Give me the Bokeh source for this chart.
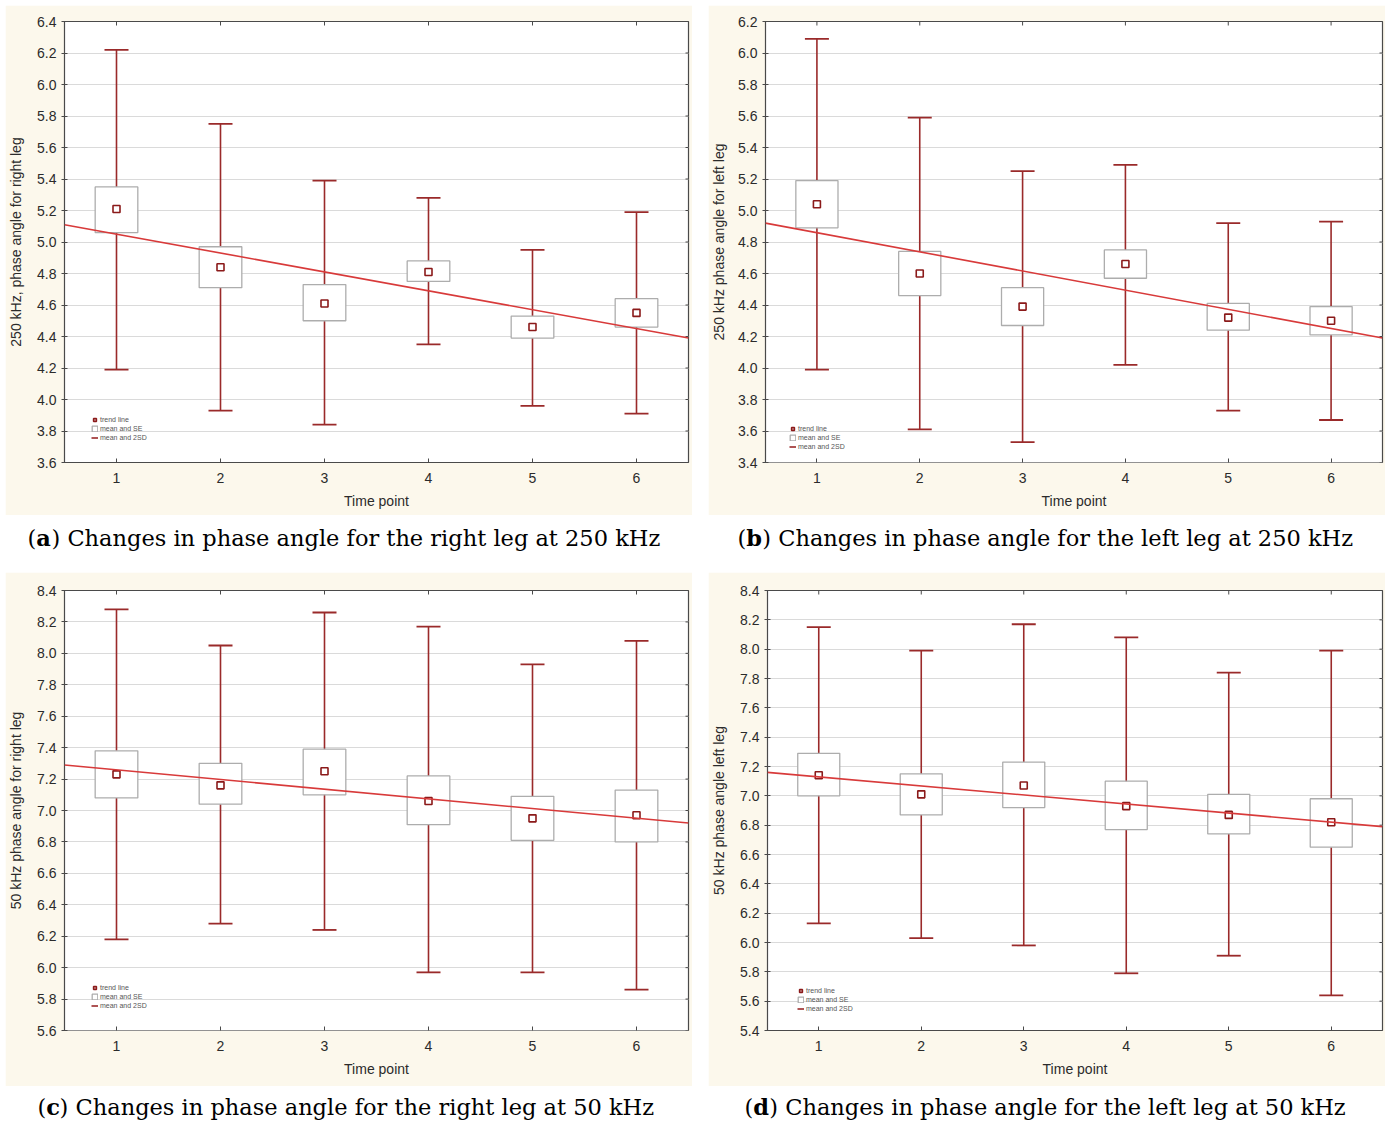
import numpy as np
from bokeh.plotting import figure
from bokeh.models import (ColumnDataSource, Range1d, FixedTicker, SingleIntervalTicker,
                          NumeralTickFormatter, Legend, LegendItem, Label, Spacer)
from bokeh.layouts import column, row
from bokeh.embed import file_html
from bokeh.resources import INLINE

# ---------------- data ----------------
time_points = [1, 2, 3, 4, 5, 6]
trend_x = [0.5, 6.5]

# (a) 250 kHz, right leg
a_mean = [5.21, 4.84, 4.61, 4.81, 4.46, 4.55]
a_se_lo = [5.06, 4.71, 4.50, 4.75, 4.39, 4.46]
a_se_hi = [5.35, 4.97, 4.73, 4.88, 4.53, 4.64]
a_sd_lo = [4.19, 3.93, 3.84, 4.35, 3.96, 3.91]
a_sd_hi = [6.22, 5.75, 5.39, 5.28, 4.95, 5.19]
a_trend = [5.11, 4.39]

# (b) 250 kHz, left leg
b_mean = [5.04, 4.60, 4.39, 4.66, 4.32, 4.30]
b_se_lo = [4.89, 4.46, 4.27, 4.57, 4.24, 4.21]
b_se_hi = [5.19, 4.74, 4.51, 4.75, 4.41, 4.39]
b_sd_lo = [3.99, 3.61, 3.53, 4.02, 3.73, 3.67]
b_sd_hi = [6.09, 5.59, 5.25, 5.29, 4.92, 4.93]
b_trend = [4.92, 4.19]

# (c) 50 kHz, right leg
c_mean = [7.23, 7.16, 7.25, 7.06, 6.95, 6.97]
c_se_lo = [7.08, 7.04, 7.10, 6.91, 6.81, 6.80]
c_se_hi = [7.38, 7.30, 7.39, 7.22, 7.09, 7.13]
c_sd_lo = [6.18, 6.28, 6.24, 5.97, 5.97, 5.86]
c_sd_hi = [8.28, 8.05, 8.26, 8.17, 7.93, 8.08]
c_trend = [7.29, 6.92]

# (d) 50 kHz, left leg
d_mean = [7.14, 7.01, 7.07, 6.93, 6.87, 6.82]
d_se_lo = [7.00, 6.87, 6.92, 6.77, 6.74, 6.65]
d_se_hi = [7.29, 7.15, 7.23, 7.10, 7.01, 6.98]
d_sd_lo = [6.13, 6.03, 5.98, 5.79, 5.91, 5.64]
d_sd_hi = [8.15, 7.99, 8.17, 8.08, 7.84, 7.99]
d_trend = [7.16, 6.79]

y_label_a = "250 kHz, phase angle for right leg"
y_label_b = "250 kHz phase angle for left leg"
y_label_c = "50 kHz phase angle for right leg"
y_label_d = "50 kHz phase angle left leg"
x_label = "Time point"
legend_labels = ["trend line", "mean and SE", "mean and 2SD"]

cap_a = ("a", ") Changes in phase angle for the right leg at 250 kHz")
cap_b = ("b", ") Changes in phase angle for the left leg at 250 kHz")
cap_c = ("c", ") Changes in phase angle for the right leg at 50 kHz")
cap_d = ("d", ") Changes in phase angle for the left leg at 50 kHz")

# ---------------- styles ----------------
CREAM = "#fcf8ec"
FRAME = "#4a4a4a"
WHISK = "#9a2a2a"
BOXC = "#adadad"
MEANC = "#8b1a1a"
TREND = "#d83a3a"
SANS = "Liberation Sans"
SERIF = "DejaVu Serif"
TXT = "#2b2b2b"


def panel(mean, se_lo, se_hi, sd_lo, sd_hi, trend_y, y_lo, y_hi, ylabel,
          w, h, bl, br, bt, bb, leg_loc, lab_standoff):
    src = ColumnDataSource(dict(x=time_points, mean=mean, se_lo=se_lo, se_hi=se_hi,
                                sd_lo=sd_lo, sd_hi=sd_hi))
    p = figure(width=w, height=h, output_backend="svg", toolbar_location=None,
               x_range=Range1d(0.5, 6.5), y_range=Range1d(y_lo, y_hi),
               min_border_left=bl, min_border_right=br, min_border_top=bt,
               min_border_bottom=bb, background_fill_color="white",
               border_fill_color=CREAM, outline_line_color=FRAME,
               outline_line_width=1.2)
    p.xgrid.visible = False
    p.ygrid.grid_line_color = "#dadada"
    p.ygrid.grid_line_width = 1.2

    y_ticks = [round(v, 1) for v in np.arange(y_lo, y_hi + 0.001, 0.2)]
    p.xaxis.ticker = FixedTicker(ticks=time_points)
    p.yaxis.ticker = SingleIntervalTicker(interval=0.2, num_minor_ticks=0)
    p.yaxis.formatter = NumeralTickFormatter(format="0.0")
    for ax in (p.xaxis[0], p.yaxis[0]):
        ax.axis_line_color = None
        ax.major_tick_line_color = FRAME
        ax.minor_tick_line_color = None
        ax.major_label_text_font = SANS
        ax.major_label_text_font_size = "14px"
        ax.major_label_text_color = TXT
        ax.axis_label_text_font = SANS
        ax.axis_label_text_font_size = "14px"
        ax.axis_label_text_font_style = "normal"
        ax.axis_label_text_color = TXT
    p.yaxis.major_tick_in = 3
    p.yaxis.major_tick_out = 3
    p.yaxis.major_label_standoff = 5
    p.yaxis.axis_label_standoff = lab_standoff
    p.yaxis.axis_label = ylabel
    p.xaxis.major_tick_in = 4
    p.xaxis.major_tick_out = 0
    p.xaxis.major_label_standoff = 10
    p.xaxis.axis_label_standoff = 7
    p.xaxis.axis_label = x_label

    # small inward tick marks on the right and top edges of the frame
    p.ray(x=[6.5] * len(y_ticks), y=y_ticks, length=3, angle=np.pi,
          length_units="screen", line_color=FRAME, line_width=1)
    p.ray(x=time_points, y=[y_hi] * len(time_points), length=4, angle=-np.pi / 2,
          length_units="screen", line_color=FRAME, line_width=1)

    wr = p.segment(x0="x", y0="sd_lo", x1="x", y1="sd_hi", source=src,
                   line_color=WHISK, line_width=1.6)
    p.scatter(x="x", y="sd_hi", source=src, marker="dash", size=24,
              line_color=WHISK, line_width=1.8)
    p.scatter(x="x", y="sd_lo", source=src, marker="dash", size=24,
              line_color=WHISK, line_width=1.8)
    br_ = p.vbar(x="x", bottom="se_lo", top="se_hi", width=0.41, source=src,
                 fill_color="white", line_color=BOXC, line_width=1.3)
    mr = p.scatter(x="x", y="mean", source=src, marker="square", size=7,
                   fill_color="white", line_color=MEANC, line_width=1.6)
    tsrc = ColumnDataSource(dict(x=trend_x, y=trend_y))
    p.line(x="x", y="y", source=tsrc, line_color=TREND, line_width=1.6)

    leg = Legend(items=[LegendItem(label=legend_labels[0], renderers=[mr]),
                        LegendItem(label=legend_labels[1], renderers=[br_]),
                        LegendItem(label=legend_labels[2], renderers=[wr])],
                 location=leg_loc, label_text_font=SANS, label_text_font_size="7px",
                 label_text_color="#555555", glyph_width=7, glyph_height=7,
                 label_height=7, label_standoff=2, spacing=2, padding=0, margin=0,
                 background_fill_alpha=0, border_line_alpha=0)
    p.add_layout(leg)
    return p


def caption(w, h, left, baseline, cap):
    letter, rest = cap
    p = figure(width=w, height=h, output_backend="svg", toolbar_location=None,
               x_range=Range1d(0, 1), y_range=Range1d(0, 1),
               x_axis_type=None, y_axis_type=None, min_border=0,
               outline_line_color=None, background_fill_color="white",
               border_fill_color="white")
    p.grid.visible = False
    fs = 22.5
    paren_w = 0.39
    bold_w = {"a": 0.675, "b": 0.71, "c": 0.592, "d": 0.71}[letter]
    common = dict(y=baseline, x_units="screen", y_units="screen", text_font=SERIF,
                  text_font_size=f"{fs}px", text_baseline="alphabetic",
                  text_color="black")
    p.add_layout(Label(x=left, text="(", **common))
    p.add_layout(Label(x=left + paren_w * fs, text=letter, text_font_style="bold", **common))
    p.add_layout(Label(x=left + (paren_w + bold_w) * fs, text=rest, **common))
    return p


pa = panel(a_mean, a_se_lo, a_se_hi, a_sd_lo, a_sd_hi, a_trend, 3.6, 6.4, y_label_a,
           687, 510, 57, 4, 12, 52, (27, 21), 10)
pb = panel(b_mean, b_se_lo, b_se_hi, b_sd_lo, b_sd_hi, b_trend, 3.4, 6.2, y_label_b,
           677, 510, 55, 3, 16, 53, (24, 12), 8)
pc = panel(c_mean, c_se_lo, c_se_hi, c_sd_lo, c_sd_hi, c_trend, 5.6, 8.4, y_label_c,
           687, 514, 57, 4, 14, 52, (27, 21), 10)
pd = panel(d_mean, d_se_lo, d_se_hi, d_sd_lo, d_sd_hi, d_trend, 5.4, 8.4, y_label_d,
           677, 514, 57, 3, 18, 56, (30, 18), 10)

ca = caption(687, 57, 22, 35, cap_a)
cb = caption(677, 57, 29, 35, cap_b)
cc = caption(687, 36, 32, 16, cap_c)
cd = caption(677, 36, 36, 16, cap_d)

layout = column(
    Spacer(width=10, height=5),
    row(Spacer(width=5, height=10), pa, Spacer(width=16, height=10), pb),
    row(Spacer(width=5, height=10), ca, Spacer(width=16, height=10), cb),
    row(Spacer(width=5, height=10), pc, Spacer(width=16, height=10), pd),
    row(Spacer(width=5, height=10), cc, Spacer(width=16, height=10), cd),
)

open("out.html", "w").write(file_html(layout, INLINE, title="Phase angle changes"))
